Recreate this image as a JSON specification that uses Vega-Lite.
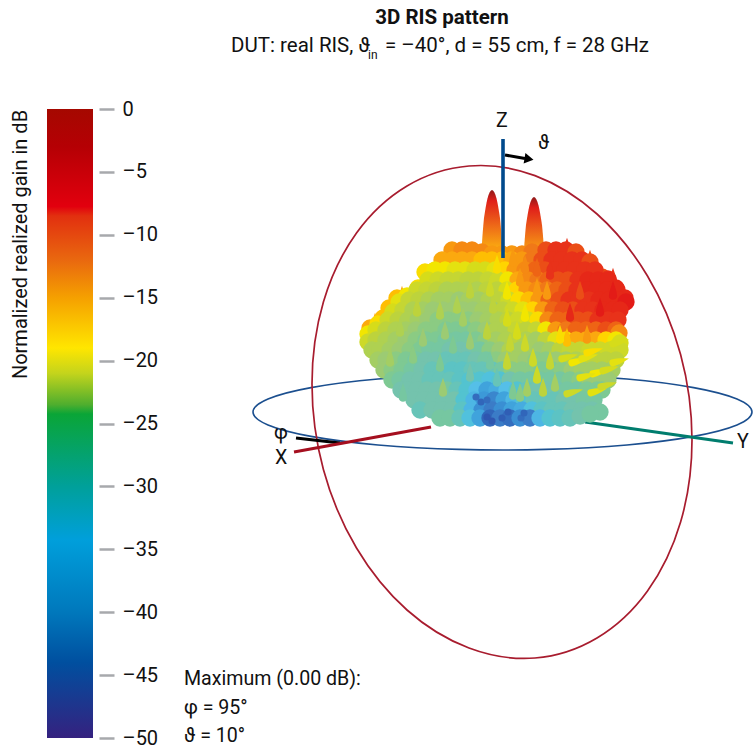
{"$schema":"https://vega.github.io/schema/vega-lite/v6.json","width":753,"height":748,"padding":0,"autosize":{"type":"none"},"background":"white","config":{"view":{"stroke":null},"text":{"font":"Roboto"}},
"resolve":{"scale":{"y":"independent"}},
"layer":[
{"data":{"values":[{"top":0,"bottom":-50}]},
"mark":{"type":"rect","fill":{"gradient":"linear","x1":0,"y1":0,"x2":0,"y2":1,"stops":[{"offset":0,"color":"#a50800"},{"offset":0.06,"color":"#b50004"},{"offset":0.155,"color":"#e2000e"},{"offset":0.17,"color":"#e2300f"},{"offset":0.24,"color":"#e9680f"},{"offset":0.3,"color":"#f5a000"},{"offset":0.38,"color":"#ffe600"},{"offset":0.42,"color":"#c4d41c"},{"offset":0.47,"color":"#4fae2e"},{"offset":0.485,"color":"#0aa537"},{"offset":0.6,"color":"#00a09a"},{"offset":0.685,"color":"#009fdb"},{"offset":0.8,"color":"#0078bc"},{"offset":0.88,"color":"#004f9f"},{"offset":1,"color":"#35217f"}]}},
"encoding":{"x":{"datum":47,"type":"quantitative","scale":{"domain":[0,753],"range":[0,753]},"axis":null},"x2":{"datum":93},
"y":{"field":"top","type":"quantitative","scale":{"domain":[0,-50],"range":[109,738],"nice":false,"zero":false},
"axis":{"orient":"right","offset":-654,"values":[0,-5,-10,-15,-20,-25,-30,-35,-40,-45,-50],"domain":false,"grid":false,"tickColor":"#a7a9ac","tickWidth":2.5,"tickSize":15,"labelPadding":8,"labelFont":"Roboto","labelFontSize":20,"labelOffset":0,"labelColor":"#111111","labelExpr":"datum.value==0?'0':'–'+abs(datum.value)","labelBound":false,"labelFlush":false,"labelOverlap":false,"title":"Normalized realized gain in dB","titleFont":"Roboto","titleFontSize":20,"titleFontWeight":"normal","titleColor":"#111111","titleAngle":270,"titleX":-79,"titleY":244,"titleAlign":"center","titleBaseline":"middle"}},
"y2":{"field":"bottom"}}},
{"encoding":{"x":{"field":"x","type":"quantitative","scale":{"domain":[0,753],"range":[0,753]},"axis":null},"y":{"field":"y","type":"quantitative","scale":{"domain":[0,748],"range":[0,748],"nice":false,"zero":false},"axis":null}},
"layer":[
{"data":{"values":[{"k":0,"x":752,"y":412},{"k":1,"x":737,"y":425},{"k":2,"x":693.6,"y":436.4},{"k":3,"x":627,"y":445},{"k":4,"x":546,"y":449.4},{"k":5,"x":459,"y":449.4},{"k":6,"x":378,"y":445},{"k":7,"x":311,"y":436.4},{"k":8,"x":268,"y":425},{"k":9,"x":253,"y":412},{"k":10,"x":268,"y":399},{"k":11,"x":311,"y":387.6},{"k":12,"x":378,"y":379},{"k":13,"x":459,"y":374.6},{"k":14,"x":546,"y":374.6},{"k":15,"x":627,"y":379},{"k":16,"x":693.6,"y":387.6},{"k":17,"x":737,"y":399}]},
"mark":{"type":"line","interpolate":"cardinal-closed","color":"#1b4f8f","strokeWidth":1.6},"encoding":{"order":{"field":"k"}}},
{"data":{"values":[{"k":0,"x":692,"y":440},{"k":1,"x":680.6,"y":522},{"k":2,"x":647.5,"y":591},{"k":3,"x":597,"y":638},{"k":4,"x":535,"y":658},{"k":5,"x":469,"y":648},{"k":6,"x":407,"y":610},{"k":7,"x":356.5,"y":548},{"k":8,"x":323.4,"y":469.5},{"k":9,"x":312,"y":384},{"k":10,"x":323.4,"y":302},{"k":11,"x":356.5,"y":233},{"k":12,"x":407,"y":186},{"k":13,"x":469,"y":166},{"k":14,"x":535,"y":175.6},{"k":15,"x":597,"y":214},{"k":16,"x":647.5,"y":276},{"k":17,"x":680.6,"y":354.5}]},
"mark":{"type":"line","interpolate":"cardinal-closed","color":"#a81c2e","strokeWidth":1.7},"encoding":{"order":{"field":"k"}}},
{"data":{"values":[{"x":296,"y":438},{"x":340,"y":443}]},"mark":{"type":"line","color":"#000000","strokeWidth":3}},
{"data":{"values":[{"x":294,"y":452},{"x":431,"y":427}]},"mark":{"type":"line","color":"#a50f1f","strokeWidth":3.2}},
{"data":{"values":[{"x":585,"y":422},{"x":733,"y":443}]},"mark":{"type":"line","color":"#007d6e","strokeWidth":3.2}},
{"data":{"values":[{"x":492,"y":230,"t":"a"},{"x":534,"y":237,"t":"b"}]},"mark":{"type":"point","filled":true,"opacity":1,"strokeWidth":0,"size":6400,"shape":"M0,-1 C0.09,-0.98 0.14,-0.7 0.2,-0.3 C0.23,0 0.25,0.3 0.26,0.5 L-0.26,0.5 C-0.25,0.3 -0.23,0 -0.2,-0.3 C-0.14,-0.7 -0.09,-0.98 0,-1Z","fill":{"gradient":"linear","x1":0,"y1":0,"x2":0,"y2":1,"stops":[{"offset":0,"color":"#8e1a1a"},{"offset":0.18,"color":"#e01f1a"},{"offset":0.6,"color":"#ee6a18"},{"offset":1,"color":"#fbb010"}]}}},
{"data":{"values":[{"x":375,"y":325,"g":-14},{"x":387,"y":312,"g":-14},{"x":402,"y":298,"g":-14},{"x":418,"y":297,"g":-15},{"x":430,"y":275,"g":-14},{"x":445,"y":260,"g":-13},{"x":467,"y":255,"g":-12},{"x":567,"y":250,"g":-8},{"x":590,"y":262,"g":-9},{"x":613,"y":280,"g":-8},{"x":626,"y":302,"g":-7}]},"mark":{"type":"point","filled":true,"opacity":1,"strokeWidth":0,"size":420,"shape":"M0,-1.2 C0.2,-0.6 0.4,-0.1 0.4,0.35 C0.4,0.75 -0.4,0.75 -0.4,0.35 C-0.4,-0.1 -0.2,-0.6 0,-1.2Z"},"encoding":{"color":{"field":"g","type":"quantitative","legend":null}}},
{"data":{"name":"cells","values":[
{"x":452,"y":250,"g":-13},{"x":462,"y":250,"g":-12},{"x":472,"y":250,"g":-12},{"x":482,"y":252,"g":-12},{"x":492,"y":254,"g":-13},{"x":502,"y":254,"g":-13},{"x":512,"y":254,"g":-13},{"x":522,"y":254,"g":-12},{"x":532,"y":252,"g":-11},{"x":546,"y":250,"g":-9},{"x":556,"y":250,"g":-8},{"x":566,"y":250,"g":-8},{"x":576,"y":252,"g":-9},
{"x":432,"y":272,"g":-15},{"x":442,"y":260,"g":-14},{"x":452,"y":260,"g":-14},{"x":462,"y":260,"g":-14},{"x":472,"y":260,"g":-14},{"x":482,"y":260,"g":-15},{"x":492,"y":260,"g":-15},{"x":502,"y":260,"g":-15},{"x":512,"y":260,"g":-14},{"x":522,"y":260,"g":-13},{"x":532,"y":260,"g":-11},{"x":542,"y":260,"g":-9},{"x":552,"y":260,"g":-8},{"x":562,"y":260,"g":-8},{"x":572,"y":260,"g":-8},{"x":582,"y":260,"g":-8},{"x":590,"y":262,"g":-9},{"x":602,"y":277,"g":-9},
{"x":425,"y":272,"g":-17},{"x":435,"y":270,"g":-18},{"x":445,"y":270,"g":-18},{"x":455,"y":270,"g":-19},{"x":465,"y":270,"g":-19},{"x":475,"y":270,"g":-20},{"x":485,"y":270,"g":-20},{"x":495,"y":270,"g":-19},{"x":505,"y":270,"g":-16},{"x":515,"y":270,"g":-13},{"x":525,"y":270,"g":-12},{"x":535,"y":270,"g":-10},{"x":545,"y":270,"g":-9},{"x":555,"y":270,"g":-8},{"x":565,"y":270,"g":-8},{"x":575,"y":270,"g":-8},{"x":585,"y":270,"g":-8},{"x":595,"y":270,"g":-8},{"x":608,"y":279,"g":-8},
{"x":408,"y":297,"g":-16},{"x":418,"y":288,"g":-17},{"x":428,"y":280,"g":-20},{"x":438,"y":280,"g":-21},{"x":448,"y":280,"g":-22},{"x":458,"y":280,"g":-22},{"x":468,"y":280,"g":-23},{"x":478,"y":280,"g":-23},{"x":488,"y":280,"g":-22},{"x":498,"y":280,"g":-21},{"x":508,"y":280,"g":-18},{"x":518,"y":280,"g":-14},{"x":528,"y":280,"g":-12},{"x":538,"y":280,"g":-11},{"x":548,"y":280,"g":-10},{"x":558,"y":280,"g":-9},{"x":568,"y":280,"g":-9},{"x":578,"y":280,"g":-8},{"x":588,"y":280,"g":-7},{"x":598,"y":280,"g":-7},{"x":608,"y":280,"g":-7},{"x":616,"y":288,"g":-7},
{"x":397,"y":298,"g":-15},{"x":407,"y":296,"g":-18},{"x":417,"y":290,"g":-21},{"x":427,"y":290,"g":-22},{"x":437,"y":290,"g":-23},{"x":447,"y":290,"g":-24},{"x":457,"y":290,"g":-24},{"x":467,"y":290,"g":-24},{"x":477,"y":290,"g":-24},{"x":487,"y":290,"g":-23},{"x":497,"y":290,"g":-23},{"x":507,"y":290,"g":-20},{"x":517,"y":290,"g":-16},{"x":527,"y":290,"g":-13},{"x":537,"y":290,"g":-12},{"x":547,"y":290,"g":-11},{"x":557,"y":290,"g":-10},{"x":567,"y":290,"g":-9},{"x":577,"y":290,"g":-8},{"x":587,"y":290,"g":-7},{"x":597,"y":290,"g":-7},{"x":607,"y":290,"g":-7},{"x":617,"y":290,"g":-7},{"x":625,"y":298,"g":-7},
{"x":389,"y":308,"g":-15},{"x":399,"y":302,"g":-19},{"x":409,"y":300,"g":-22},{"x":419,"y":300,"g":-23},{"x":429,"y":300,"g":-24},{"x":439,"y":300,"g":-25},{"x":449,"y":300,"g":-25},{"x":459,"y":300,"g":-26},{"x":469,"y":300,"g":-25},{"x":479,"y":300,"g":-25},{"x":489,"y":300,"g":-24},{"x":499,"y":300,"g":-23},{"x":509,"y":300,"g":-21},{"x":519,"y":300,"g":-17},{"x":529,"y":300,"g":-15},{"x":539,"y":300,"g":-13},{"x":549,"y":300,"g":-10},{"x":559,"y":300,"g":-9},{"x":569,"y":300,"g":-8},{"x":579,"y":300,"g":-8},{"x":589,"y":300,"g":-8},{"x":599,"y":300,"g":-7},{"x":609,"y":300,"g":-7},{"x":619,"y":300,"g":-7},{"x":626,"y":302,"g":-6},
{"x":383,"y":318,"g":-15},{"x":393,"y":312,"g":-20},{"x":403,"y":310,"g":-22},{"x":413,"y":310,"g":-24},{"x":423,"y":310,"g":-25},{"x":433,"y":310,"g":-26},{"x":443,"y":310,"g":-26},{"x":453,"y":310,"g":-26},{"x":463,"y":310,"g":-26},{"x":473,"y":310,"g":-26},{"x":483,"y":310,"g":-25},{"x":493,"y":310,"g":-25},{"x":503,"y":310,"g":-23},{"x":513,"y":310,"g":-21},{"x":523,"y":310,"g":-19},{"x":533,"y":310,"g":-16},{"x":543,"y":310,"g":-13},{"x":553,"y":310,"g":-10},{"x":563,"y":310,"g":-9},{"x":573,"y":310,"g":-9},{"x":583,"y":310,"g":-8},{"x":593,"y":310,"g":-8},{"x":603,"y":310,"g":-7},{"x":613,"y":310,"g":-7},{"x":620,"y":310,"g":-7},
{"x":370,"y":328,"g":-14},{"x":378,"y":324,"g":-17},{"x":388,"y":320,"g":-21},{"x":398,"y":320,"g":-23},{"x":408,"y":320,"g":-24},{"x":418,"y":320,"g":-25},{"x":428,"y":320,"g":-26},{"x":438,"y":320,"g":-27},{"x":448,"y":320,"g":-27},{"x":458,"y":320,"g":-27},{"x":468,"y":320,"g":-27},{"x":478,"y":320,"g":-26},{"x":488,"y":320,"g":-25},{"x":498,"y":320,"g":-24},{"x":508,"y":320,"g":-23},{"x":518,"y":320,"g":-21},{"x":528,"y":320,"g":-20},{"x":538,"y":320,"g":-17},{"x":548,"y":320,"g":-12},{"x":558,"y":320,"g":-10},{"x":568,"y":320,"g":-10},{"x":578,"y":320,"g":-9},{"x":588,"y":320,"g":-9},{"x":598,"y":320,"g":-8},{"x":608,"y":320,"g":-8},{"x":618,"y":320,"g":-8},
{"x":368,"y":334,"g":-18},{"x":376,"y":330,"g":-20},{"x":386,"y":330,"g":-23},{"x":396,"y":330,"g":-24},{"x":406,"y":330,"g":-25},{"x":416,"y":330,"g":-26},{"x":426,"y":330,"g":-27},{"x":436,"y":330,"g":-27},{"x":446,"y":330,"g":-28},{"x":456,"y":330,"g":-28},{"x":466,"y":330,"g":-28},{"x":476,"y":330,"g":-27},{"x":486,"y":330,"g":-26},{"x":496,"y":330,"g":-24},{"x":506,"y":330,"g":-24},{"x":516,"y":330,"g":-22},{"x":526,"y":330,"g":-23},{"x":536,"y":330,"g":-22},{"x":546,"y":330,"g":-18},{"x":556,"y":330,"g":-13},{"x":566,"y":330,"g":-11},{"x":576,"y":330,"g":-10},{"x":586,"y":330,"g":-10},{"x":596,"y":330,"g":-10},{"x":606,"y":330,"g":-9},{"x":616,"y":330,"g":-10},{"x":619,"y":333,"g":-12},
{"x":368,"y":342,"g":-21},{"x":376,"y":340,"g":-23},{"x":386,"y":340,"g":-24},{"x":396,"y":340,"g":-25},{"x":406,"y":340,"g":-26},{"x":416,"y":340,"g":-27},{"x":426,"y":340,"g":-28},{"x":436,"y":340,"g":-28},{"x":446,"y":340,"g":-29},{"x":456,"y":340,"g":-29},{"x":466,"y":340,"g":-29},{"x":476,"y":340,"g":-28},{"x":486,"y":340,"g":-27},{"x":496,"y":340,"g":-25},{"x":506,"y":340,"g":-24},{"x":516,"y":340,"g":-23},{"x":526,"y":340,"g":-24},{"x":536,"y":340,"g":-25},{"x":546,"y":340,"g":-23},{"x":556,"y":340,"g":-19},{"x":566,"y":340,"g":-17},{"x":576,"y":340,"g":-14},{"x":586,"y":340,"g":-14},{"x":596,"y":340,"g":-14},{"x":606,"y":340,"g":-16},{"x":616,"y":340,"g":-18},{"x":620,"y":343,"g":-20},
{"x":372,"y":350,"g":-24},{"x":380,"y":350,"g":-24},{"x":390,"y":350,"g":-25},{"x":400,"y":350,"g":-26},{"x":410,"y":350,"g":-27},{"x":420,"y":350,"g":-28},{"x":430,"y":350,"g":-29},{"x":440,"y":350,"g":-29},{"x":450,"y":350,"g":-30},{"x":460,"y":350,"g":-30},{"x":470,"y":350,"g":-30},{"x":480,"y":350,"g":-29},{"x":490,"y":350,"g":-27},{"x":500,"y":350,"g":-26},{"x":510,"y":350,"g":-24},{"x":520,"y":350,"g":-25},{"x":530,"y":350,"g":-25},{"x":540,"y":350,"g":-26},{"x":550,"y":350,"g":-25},{"x":560,"y":350,"g":-23},{"x":570,"y":350,"g":-22},{"x":580,"y":350,"g":-22},{"x":590,"y":350,"g":-21},{"x":600,"y":350,"g":-21},{"x":610,"y":350,"g":-21},{"x":620,"y":350,"g":-21},
{"x":378,"y":360,"g":-25},{"x":386,"y":360,"g":-26},{"x":396,"y":360,"g":-27},{"x":406,"y":360,"g":-28},{"x":416,"y":360,"g":-29},{"x":426,"y":360,"g":-30},{"x":436,"y":360,"g":-30},{"x":446,"y":360,"g":-31},{"x":456,"y":360,"g":-31},{"x":466,"y":360,"g":-31},{"x":476,"y":360,"g":-30},{"x":486,"y":360,"g":-29},{"x":496,"y":360,"g":-27},{"x":506,"y":360,"g":-26},{"x":516,"y":360,"g":-25},{"x":526,"y":360,"g":-26},{"x":536,"y":360,"g":-27},{"x":546,"y":360,"g":-27},{"x":556,"y":360,"g":-26},{"x":566,"y":360,"g":-25},{"x":576,"y":360,"g":-24},{"x":586,"y":360,"g":-23},{"x":596,"y":360,"g":-23},{"x":606,"y":360,"g":-23},{"x":616,"y":360,"g":-23},
{"x":384,"y":370,"g":-26},{"x":392,"y":370,"g":-27},{"x":402,"y":370,"g":-28},{"x":412,"y":370,"g":-29},{"x":422,"y":370,"g":-30},{"x":432,"y":370,"g":-31},{"x":442,"y":370,"g":-31},{"x":452,"y":370,"g":-32},{"x":462,"y":370,"g":-32},{"x":472,"y":370,"g":-31},{"x":482,"y":370,"g":-31},{"x":492,"y":370,"g":-31},{"x":502,"y":370,"g":-29},{"x":512,"y":370,"g":-27},{"x":522,"y":370,"g":-27},{"x":532,"y":370,"g":-27},{"x":542,"y":370,"g":-28},{"x":552,"y":370,"g":-28},{"x":562,"y":370,"g":-27},{"x":572,"y":370,"g":-26},{"x":582,"y":370,"g":-25},{"x":592,"y":370,"g":-25},{"x":602,"y":370,"g":-25},{"x":612,"y":370,"g":-25},
{"x":392,"y":380,"g":-28},{"x":400,"y":380,"g":-29},{"x":410,"y":380,"g":-30},{"x":420,"y":380,"g":-30},{"x":430,"y":380,"g":-31},{"x":440,"y":380,"g":-31},{"x":450,"y":380,"g":-31},{"x":460,"y":380,"g":-32},{"x":470,"y":380,"g":-33},{"x":480,"y":380,"g":-33},{"x":490,"y":380,"g":-34},{"x":500,"y":380,"g":-33},{"x":510,"y":380,"g":-30},{"x":520,"y":380,"g":-29},{"x":530,"y":380,"g":-29},{"x":540,"y":380,"g":-29},{"x":550,"y":380,"g":-29},{"x":560,"y":380,"g":-29},{"x":570,"y":380,"g":-28},{"x":580,"y":380,"g":-27},{"x":590,"y":380,"g":-26},{"x":600,"y":380,"g":-26},{"x":608,"y":380,"g":-26},
{"x":401,"y":390,"g":-30},{"x":407,"y":390,"g":-30},{"x":417,"y":390,"g":-30},{"x":427,"y":390,"g":-30},{"x":437,"y":390,"g":-30},{"x":447,"y":390,"g":-29},{"x":457,"y":390,"g":-31},{"x":467,"y":390,"g":-33},{"x":477,"y":390,"g":-35},{"x":487,"y":390,"g":-38},{"x":497,"y":390,"g":-37},{"x":507,"y":390,"g":-35},{"x":517,"y":390,"g":-33},{"x":527,"y":390,"g":-31},{"x":537,"y":390,"g":-30},{"x":547,"y":390,"g":-30},{"x":557,"y":390,"g":-30},{"x":567,"y":390,"g":-29},{"x":577,"y":390,"g":-29},{"x":587,"y":390,"g":-28},{"x":597,"y":390,"g":-28},{"x":602,"y":390,"g":-28},
{"x":414,"y":400,"g":-30},{"x":424,"y":400,"g":-30},{"x":434,"y":400,"g":-30},{"x":444,"y":400,"g":-30},{"x":454,"y":400,"g":-30},{"x":464,"y":400,"g":-33},{"x":474,"y":400,"g":-36},{"x":484,"y":400,"g":-39},{"x":494,"y":400,"g":-41},{"x":504,"y":400,"g":-38},{"x":514,"y":400,"g":-36},{"x":524,"y":400,"g":-33},{"x":534,"y":400,"g":-31},{"x":544,"y":400,"g":-31},{"x":554,"y":400,"g":-31},{"x":564,"y":400,"g":-30},{"x":574,"y":400,"g":-30},{"x":584,"y":400,"g":-29},{"x":594,"y":400,"g":-29},
{"x":420,"y":410,"g":-31},{"x":432,"y":410,"g":-30},{"x":442,"y":410,"g":-30},{"x":452,"y":410,"g":-30},{"x":462,"y":410,"g":-32},{"x":472,"y":410,"g":-36},{"x":482,"y":410,"g":-40},{"x":492,"y":410,"g":-42},{"x":502,"y":410,"g":-40},{"x":512,"y":410,"g":-38},{"x":522,"y":410,"g":-37},{"x":532,"y":410,"g":-34},{"x":542,"y":410,"g":-32},{"x":552,"y":410,"g":-31},{"x":562,"y":410,"g":-31},{"x":572,"y":410,"g":-30},{"x":582,"y":410,"g":-30},{"x":592,"y":410,"g":-30},{"x":600,"y":412,"g":-29},
{"x":440,"y":418,"g":-29},{"x":450,"y":418,"g":-29},{"x":460,"y":418,"g":-31},{"x":470,"y":418,"g":-34},{"x":480,"y":418,"g":-38},{"x":490,"y":418,"g":-45},{"x":500,"y":418,"g":-42},{"x":510,"y":418,"g":-44},{"x":520,"y":418,"g":-40},{"x":530,"y":418,"g":-42},{"x":540,"y":418,"g":-36},{"x":550,"y":418,"g":-33},{"x":560,"y":418,"g":-32},{"x":570,"y":418,"g":-31},{"x":580,"y":416,"g":-30},{"x":590,"y":414,"g":-29}
]},"mark":{"type":"point","filled":true,"shape":"circle","size":300,"opacity":1,"strokeWidth":0},
"encoding":{"color":{"field":"g","type":"quantitative","legend":null,"scale":{"domain":[-50,-42,-35,-30,-26,-23,-20,-18,-16,-14,-11,-8,-6,-3,0],"range":["#2f3f9f","#3b7cc7","#55bfe8","#74c3ad","#9ccb73","#bdd33c","#d6dc1a","#f2e600","#ffd400","#fba90f","#f07818","#e8321a","#e31b17","#c00a0a","#7a0f10"]}}}},
{"data":{"values":[{"x":457,"y":307,"g":-24},{"x":493,"y":307,"g":-23},{"x":470,"y":343,"g":-26},{"x":487,"y":333,"g":-23},{"x":517,"y":333,"g":-20},{"x":507,"y":320,"g":-20},{"x":490,"y":290,"g":-21},{"x":497,"y":267,"g":-17},{"x":513,"y":260,"g":-13},{"x":525,"y":267,"g":-12},{"x":507,"y":363,"g":-22},{"x":533,"y":360,"g":-21},{"x":550,"y":363,"g":-22},{"x":537,"y":377,"g":-21},{"x":543,"y":390,"g":-23},{"x":527,"y":390,"g":-25},{"x":513,"y":393,"g":-28},{"x":443,"y":390,"g":-26},{"x":413,"y":357,"g":-27},{"x":423,"y":340,"g":-26},{"x":453,"y":347,"g":-28},{"x":490,"y":363,"g":-29},{"x":497,"y":380,"g":-31},{"x":440,"y":313,"g":-24},{"x":417,"y":310,"g":-23},{"x":463,"y":320,"g":-25},{"x":507,"y":293,"g":-18},{"x":520,"y":280,"g":-13},{"x":567,"y":340,"g":-15},{"x":587,"y":337,"g":-13},{"x":537,"y":270,"g":-10},{"x":550,"y":273,"g":-8},{"x":547,"y":293,"g":-13},{"x":537,"y":290,"g":-13},{"x":560,"y":337,"g":-17},{"x":580,"y":293,"g":-9},{"x":613,"y":293,"g":-6},{"x":600,"y":310,"g":-6},{"x":570,"y":315,"g":-7},{"x":440,"y":365,"g":-28},{"x":400,"y":330,"g":-24},{"x":470,"y":375,"g":-30},{"x":520,"y":395,"g":-27},{"x":555,"y":385,"g":-25},{"x":525,"y":345,"g":-21},{"x":403,"y":395,"g":-29},{"x":470,"y":292,"g":-23},{"x":445,"y":333,"g":-26},{"x":390,"y":360,"g":-25},{"x":510,"y":345,"g":-22},{"x":525,"y":315,"g":-18}]},"mark":{"type":"point","filled":true,"opacity":1,"strokeWidth":0,"size":420,"shape":"M0,-1.2 C0.2,-0.6 0.4,-0.1 0.4,0.35 C0.4,0.75 -0.4,0.75 -0.4,0.35 C-0.4,-0.1 -0.2,-0.6 0,-1.2Z"},
"encoding":{"color":{"field":"g","type":"quantitative","legend":null}}},
{"data":{"values":[{"x":575,"y":362,"g":-18},{"x":585,"y":358,"g":-19},{"x":596,"y":373,"g":-18},{"x":583,"y":377,"g":-19},{"x":594,"y":392,"g":-19},{"x":606,"y":370,"g":-20},{"x":570,"y":393,"g":-21},{"x":604,"y":386,"g":-21},{"x":565,"y":358,"g":-20},{"x":616,"y":362,"g":-19},{"x":616,"y":343,"g":-20},{"x":590,"y":352,"g":-17}]},"mark":{"type":"point","filled":true,"opacity":1,"strokeWidth":0,"size":500,"angle":75,"shape":"M0,-1.2 C0.2,-0.6 0.32,-0.1 0.32,0.35 C0.32,0.68 -0.32,0.68 -0.32,0.35 C-0.32,-0.1 -0.2,-0.6 0,-1.2Z"},
"encoding":{"color":{"field":"g","type":"quantitative","legend":null}}},
{"data":{"values":[{"x":476,"y":397,"g":-44},{"x":481,"y":402,"g":-45},{"x":487,"y":400,"g":-44},{"x":487,"y":417,"g":-47},{"x":492,"y":421,"g":-47},{"x":502,"y":418,"g":-46},{"x":508,"y":412,"g":-46},{"x":521,"y":418,"g":-44},{"x":524,"y":413,"g":-45}]},"mark":{"type":"point","filled":true,"opacity":1,"strokeWidth":0,"size":50,"shape":"circle"},"encoding":{"color":{"field":"g","type":"quantitative","legend":null}}},
{"data":{"values":[{"x":503,"y":139},{"x":503,"y":258}]},"mark":{"type":"line","color":"#004a8c","strokeWidth":3.6}},
{"data":{"values":[{"x":505,"y":155},{"x":525,"y":158.5}]},"mark":{"type":"line","color":"#000000","strokeWidth":3}},
{"data":{"values":[{"x":529,"y":159}]},"mark":{"type":"point","filled":true,"opacity":1,"color":"#000000","strokeWidth":0,"shape":"triangle-right","size":110,"angle":10}},
{"data":{"values":[{"x":442,"y":18,"t":"3D RIS pattern"}]},"mark":{"type":"text","font":"Roboto","fontSize":20.5,"fontWeight":"bold","align":"center","baseline":"middle","color":"#111111"},"encoding":{"text":{"field":"t"}}},
{"data":{"values":[{"x":231,"y":46,"t":"DUT: real RIS, ϑ"},{"x":385,"y":46,"t":"= –40°, d = 55 cm, f = 28 GHz"}]},"mark":{"type":"text","font":"Roboto","fontSize":20.5,"align":"left","baseline":"middle","color":"#111111"},"encoding":{"text":{"field":"t"}}},
{"data":{"values":[{"x":496,"y":121,"t":"Z"},{"x":538,"y":143,"t":"ϑ"},{"x":274,"y":433,"t":"φ"},{"x":275,"y":458,"t":"X"},{"x":737,"y":442,"t":"Y"},{"x":184,"y":679,"t":"Maximum (0.00 dB):"},{"x":184,"y":708,"t":"φ = 95°"},{"x":184,"y":736,"t":"ϑ = 10°"}]},"mark":{"type":"text","font":"Roboto","fontSize":19.6,"align":"left","baseline":"middle","color":"#111111"},"encoding":{"text":{"field":"t"}}},
{"data":{"values":[{"x":368,"y":55,"t":"in"}]},"mark":{"type":"text","font":"Roboto","fontSize":12,"align":"left","baseline":"middle","color":"#111111"},"encoding":{"text":{"field":"t"}}}
]}
]}
